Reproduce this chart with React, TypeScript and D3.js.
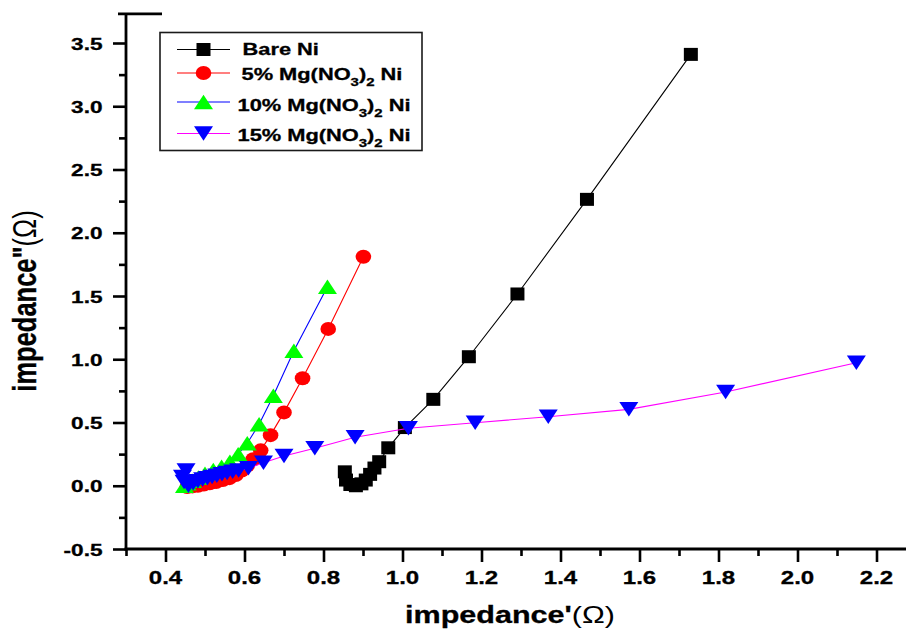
import { useEffect, useRef } from 'react';
import * as d3 from 'd3';

// Nyquist data (impedance' , impedance'')
const bareX = [0.854, 0.857, 0.868, 0.882, 0.896, 0.907, 0.918, 0.929, 0.941, 0.964, 1.006, 1.078, 1.168, 1.291, 1.467, 1.73];
const bareY = [0.11, 0.045, 0.01, 0.0, 0.015, 0.045, 0.09, 0.14, 0.19, 0.30, 0.46, 0.683, 1.02, 1.516, 2.264, 3.41];

const mg5X = [0.455, 0.468, 0.482, 0.497, 0.512, 0.528, 0.545, 0.562, 0.578, 0.593, 0.607, 0.622, 0.641, 0.666, 0.70, 0.747, 0.812, 0.901];
const mg5Y = [-0.01, -0.005, 0.0, 0.01, 0.02, 0.03, 0.045, 0.06, 0.085, 0.12, 0.16, 0.21, 0.28, 0.40, 0.58, 0.85, 1.24, 1.81];

const mg10X = [0.448, 0.455, 0.468, 0.483, 0.50, 0.521, 0.542, 0.563, 0.584, 0.607, 0.637, 0.673, 0.725, 0.810];
const mg10Y = [0.0, 0.02, 0.04, 0.065, 0.095, 0.125, 0.15, 0.19, 0.25, 0.336, 0.486, 0.712, 1.068, 1.574];

const mg15X = [0.452, 0.443, 0.447, 0.458, 0.47, 0.482, 0.494, 0.506, 0.518, 0.53, 0.543, 0.556, 0.57, 0.585, 0.61, 0.648, 0.70, 0.778, 0.88, 1.015, 1.184, 1.369, 1.573, 1.818, 2.149];
const mg15Y = [0.12, 0.07, 0.03, 0.0, 0.02, 0.035, 0.05, 0.06, 0.07, 0.08, 0.09, 0.1, 0.11, 0.12, 0.138, 0.182, 0.235, 0.296, 0.383, 0.455, 0.498, 0.546, 0.604, 0.741, 0.973];

const xMajor = [0.4, 0.6, 0.8, 1.0, 1.2, 1.4, 1.6, 1.8, 2.0, 2.2];
const xMinor = [0.3, 0.5, 0.7, 0.9, 1.1, 1.3, 1.5, 1.7, 1.9, 2.1, 2.3];
const yMajor = [-0.5, 0.0, 0.5, 1.0, 1.5, 2.0, 2.5, 3.0, 3.5];
const yMinor = [-0.25, 0.25, 0.75, 1.25, 1.75, 2.25, 2.75, 3.25];

type Part = { t: string; sub?: boolean };
type Series = { xs: number[]; ys: number[]; line: string; fill: string; shape: string; label: Part[] };

const series: Series[] = [
  { xs: bareX, ys: bareY, line: '#000000', fill: '#000000', shape: 'square', label: [{ t: 'Bare Ni' }] },
  { xs: mg5X, ys: mg5Y, line: '#ff0000', fill: '#ff0000', shape: 'circle',
    label: [{ t: '5% Mg(NO' }, { t: '3', sub: true }, { t: ')' }, { t: '2', sub: true }, { t: ' Ni' }] },
  { xs: mg10X, ys: mg10Y, line: '#0000ff', fill: '#00ff00', shape: 'up',
    label: [{ t: '10% Mg(NO' }, { t: '3', sub: true }, { t: ')' }, { t: '2', sub: true }, { t: ' Ni' }] },
  { xs: mg15X, ys: mg15Y, line: '#ff00ff', fill: '#0000ff', shape: 'down',
    label: [{ t: '15% Mg(NO' }, { t: '3', sub: true }, { t: ')' }, { t: '2', sub: true }, { t: ' Ni' }] },
];

const W = 906;
const H = 630;
const SX = 1.3; // the source picture is stretched sideways, text included
const FONT = 'Arial, "Liberation Sans", sans-serif';

function addMarker(g: any, shape: string, cx: number, cy: number, fill: string) {
  if (shape === 'circle') {
    g.append('ellipse').attr('cx', cx).attr('cy', cy).attr('rx', 7.8).attr('ry', 7).attr('fill', fill);
    return;
  }
  let d = '';
  if (shape === 'square') d = 'M-7,-6.5H7V6.5H-7Z';
  if (shape === 'up') d = 'M0,-7.25L9.5,7.25L-9.5,7.25Z';
  if (shape === 'down') d = 'M-9.5,-7.25L9.5,-7.25L0,7.25Z';
  g.append('path').attr('d', d).attr('transform', `translate(${cx},${cy})`).attr('fill', fill);
}

function stretchedText(g: any, x: number, y: number, anchor: string, size: number, rotate = 0) {
  return g.append('text')
    .attr('transform', `translate(${x},${y}) scale(${SX},1)${rotate ? ` rotate(${rotate})` : ''}`)
    .attr('text-anchor', anchor)
    .attr('font-family', FONT)
    .attr('font-size', size)
    .attr('font-weight', 'bold')
    .attr('fill', '#000')
    .attr('stroke', '#000')
    .attr('stroke-width', 0.3);
}

export default function App() {
  const ref = useRef<SVGSVGElement>(null);

  useEffect(() => {
    document.body.style.margin = '0';
    if (!ref.current) return;
    const svg = d3.select(ref.current);
    svg.selectAll('*').remove();

    const x = d3.scaleLinear().domain([0.3, 2.3]).range([126, 916]);
    const y = d3.scaleLinear().domain([-0.5, 3.5]).range([549, 43]);
    const yTop = y(3.73);

    svg.append('rect').attr('width', W).attr('height', H).attr('fill', '#fff');

    // ticks (outward, major + minor)
    const tickStyle = (ax: any) => {
      ax.select('.domain').remove();
      ax.selectAll('.tick line').attr('stroke', '#000').attr('stroke-width', 2.6);
    };
    svg.append('g').attr('transform', `translate(${x(0.3)},0)`)
      .call(d3.axisLeft(y).tickValues(yMajor).tickSize(13).tickSizeOuter(0).tickFormat(() => ''))
      .call(tickStyle);
    svg.append('g').attr('transform', `translate(${x(0.3)},0)`)
      .call(d3.axisLeft(y).tickValues(yMinor).tickSize(7).tickSizeOuter(0).tickFormat(() => ''))
      .call(tickStyle);
    svg.append('g').attr('transform', `translate(0,${y(-0.5)})`)
      .call(d3.axisBottom(x).tickValues(xMajor).tickSize(13).tickSizeOuter(0).tickFormat(() => ''))
      .call(tickStyle);
    svg.append('g').attr('transform', `translate(0,${y(-0.5)})`)
      .call(d3.axisBottom(x).tickValues(xMinor).tickSize(7).tickSizeOuter(0).tickFormat(() => ''))
      .call(tickStyle);

    // axis lines
    svg.append('line').attr('x1', x(0.3)).attr('x2', x(0.3)).attr('y1', yTop).attr('y2', y(-0.5) + 1.4)
      .attr('stroke', '#000').attr('stroke-width', 2.8);
    svg.append('line').attr('x1', x(0.3) - 8).attr('x2', x(0.3) + 36).attr('y1', yTop).attr('y2', yTop)
      .attr('stroke', '#000').attr('stroke-width', 2.6);
    svg.append('line').attr('x1', x(0.3) - 1.4).attr('x2', W).attr('y1', y(-0.5)).attr('y2', y(-0.5))
      .attr('stroke', '#000').attr('stroke-width', 2.8);

    // tick labels
    yMajor.forEach(v => {
      stretchedText(svg, 102.5, y(v) + 6.5, 'end', 17.4).text(v.toFixed(1));
    });
    xMajor.forEach(v => {
      stretchedText(svg, x(v), 583.5, 'middle', 18.5).text(v.toFixed(1));
    });

    // axis titles
    const xt = stretchedText(svg, 510, 623, 'middle', 23.5);
    xt.append('tspan').text("impedance'");
    xt.append('tspan').attr('font-weight', 'normal').attr('stroke-width', 0).text('(\u03A9)');
    const yt = stretchedText(svg, 36, 301, 'middle', 25.5, -90);
    yt.append('tspan').text('impedance"');
    yt.append('tspan').attr('font-weight', 'normal').attr('stroke-width', 0).text('(\u03A9)');

    // series
    const plot = svg.append('g');
    series.forEach(s => {
      const pts = s.xs.map((v, i) => [x(v), y(s.ys[i])] as [number, number]);
      plot.append('path')
        .attr('d', d3.line()(pts))
        .attr('fill', 'none')
        .attr('stroke', s.line)
        .attr('stroke-width', 1.1);
      pts.forEach(p => addMarker(plot, s.shape, p[0], p[1], s.fill));
    });

    // legend
    const leg = svg.append('g');
    leg.append('rect').attr('x', 160).attr('y', 32.5).attr('width', 262).attr('height', 118)
      .attr('fill', '#fff').attr('stroke', '#1a1a1a').attr('stroke-width', 1.6);
    const rowMarkY = [49.5, 73, 102, 133.5];
    const rowTextY = [55, 80, 110.5, 140.5];
    const rowTextX = [242.5, 241.5, 237.5, 237.5];
    series.forEach((s, i) => {
      leg.append('line').attr('x1', 177).attr('x2', 230).attr('y1', rowMarkY[i]).attr('y2', rowMarkY[i])
        .attr('stroke', s.line).attr('stroke-width', 1.1);
      addMarker(leg, s.shape, 203.5, rowMarkY[i], s.fill);
      const t = stretchedText(leg, rowTextX[i], rowTextY[i], 'start', 16.8);
      let wasSub = false;
      s.label.forEach(p => {
        const dy = p.sub ? 6 : wasSub ? -6 : 0;
        t.append('tspan').attr('dy', dy).attr('font-size', p.sub ? 11.5 : 16.8).text(p.t);
        wasSub = !!p.sub;
      });
    });
  }, []);

  return <svg ref={ref} width={W} height={H} style={{ display: 'block' }} />;
}
